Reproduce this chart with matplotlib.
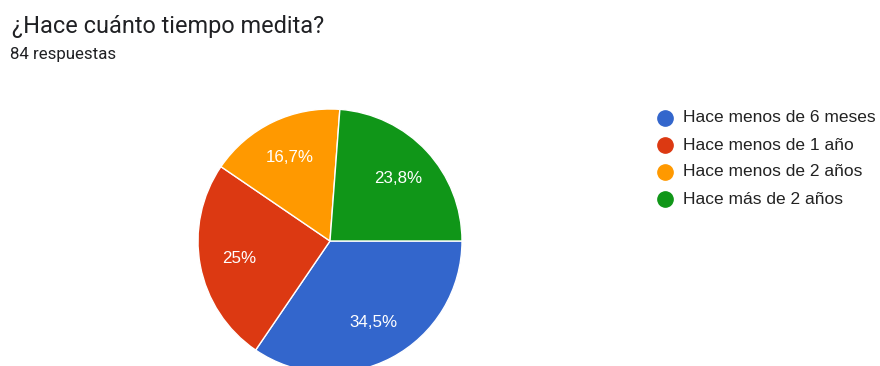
import matplotlib
matplotlib.use("Agg")
import matplotlib.pyplot as plt

plt.rcParams["font.family"] = ["Liberation Sans", "DejaVu Sans"]

TITLE = "¿Hace cuánto tiempo medita?"
SUBTITLE = "84 respuestas"
CATEGORIES = ["Hace menos de 6 meses", "Hace menos de 1 año",
              "Hace menos de 2 años", "Hace más de 2 años"]
COUNTS = [29, 21, 14, 20]
COLORS = ["#3366cc", "#dc3912", "#ff9900", "#109618"]

W, H = 880, 366


def pct_label(p):
    s = f"{p:.1f}".rstrip("0").rstrip(".")
    return s.replace(".", ",") + "%"


fig = plt.figure(figsize=(W / 100, H / 100), dpi=100)
ax = fig.add_axes([0, 0, 1, 1])

# pie laid out in pixel units (y measured upward)
wedges, _, autotexts = ax.pie(
    COUNTS, colors=COLORS, startangle=0, counterclock=False,
    center=(330, H - 241), radius=132, autopct=pct_label, pctdistance=0.7,
    wedgeprops=dict(edgecolor="white", linewidth=1),
    textprops=dict(color="white", fontsize=12.2))
ax.set_xlim(0, W)
ax.set_ylim(0, H)
ax.set_aspect("equal")
ax.axis("off")

fig.text(12 / W, 1 - 33 / H, TITLE, fontsize=16.9, color="#202124",
         va="baseline", family=["Roboto", "DejaVu Sans"])
fig.text(10 / W, 1 - 59 / H, SUBTITLE, fontsize=12.2, color="#202124",
         va="baseline", family=["Roboto", "DejaVu Sans"])

# legend rows: dot + label
for i, (lab, c) in enumerate(zip(CATEGORIES, COLORS)):
    y = H - (118 + 27 * i)
    ax.plot(665, y, "o", ms=11, color=c, clip_on=False)
    ax.text(683, y, lab, fontsize=12.5, color="#222222", va="center")

fig.savefig("out.png", dpi=100, facecolor="white")
